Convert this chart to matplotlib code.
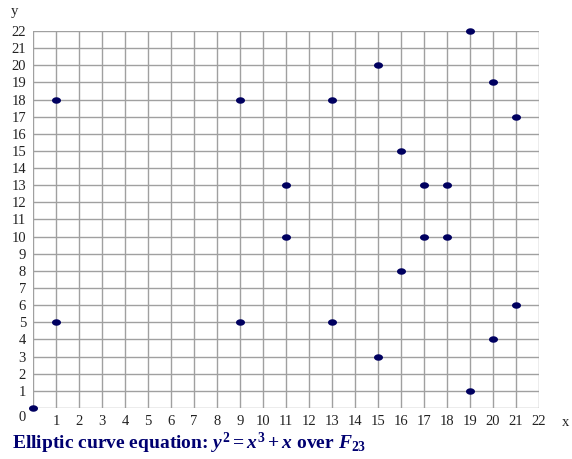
import matplotlib
matplotlib.use("Agg")
import matplotlib.pyplot as plt
import matplotlib.transforms as mtransforms
from matplotlib.path import Path
import numpy as np

plt.rcParams['mathtext.fontset'] = 'custom'
plt.rcParams['mathtext.rm'] = 'Liberation Serif:bold'
plt.rcParams['mathtext.it'] = 'Liberation Serif:bold:italic'
plt.rcParams['mathtext.bf'] = 'Liberation Serif:bold'

xs = [0, 1, 1, 9, 9, 11, 11, 13, 13, 15, 15, 16, 16, 17, 17, 18, 18, 19, 19, 20, 20, 21, 21]
ys = [0, 5, 18, 5, 18, 10, 13, 5, 18, 3, 20, 8, 15, 10, 13, 10, 13, 1, 22, 4, 19, 6, 17]
x_ticks = list(range(1, 23))
y_ticks = list(range(0, 23))
title = r"Elliptic curve equation: $y^2 = x^3 + x$ over $F_{23}$"

# elliptical marker (wider than tall)
t = np.linspace(0, 2 * np.pi, 40)
ell = Path(np.column_stack([np.cos(t), 0.72 * np.sin(t)]), closed=True)

fig = plt.figure(figsize=(5.72, 4.59), dpi=100)
ax = fig.add_axes([33/572, 1-408/459, (539-33)/572, (408-31)/459])
ax.set_xlim(0, 22)
ax.set_ylim(0, 22)
for s in ax.spines.values():
    s.set_visible(False)
ax.set_xticks(range(0, 23))
ax.set_yticks(range(0, 23))
ax.grid(True, color='#a0a0a0', linewidth=1.0)
ax.set_axisbelow(True)
ax.tick_params(length=0, labelsize=10.5, labelcolor='#222222', pad=5)
ax.set_xticklabels([''] + [str(v) for v in x_ticks], family='Liberation Serif')
ax.set_yticklabels([str(v) for v in y_ticks], family='Liberation Serif')
lbl0 = ax.get_yticklabels()[0]
lbl0.set_transform(lbl0.get_transform() + mtransforms.ScaledTranslation(0, -6/72, fig.dpi_scale_trans))

ax.scatter(xs, ys, s=42, marker=ell, color='#000060', zorder=3, clip_on=False, linewidths=0)

fig.text(14/572, 1-12/459, 'y', family='Liberation Serif', fontsize=10.5, color='#222222', ha='center', va='center')
fig.text(566/572, 1-423/459, 'x', family='Liberation Serif', fontsize=10.5, color='#222222', ha='center', va='center')
fig.text(12/572, 1-443/459, title, family='Liberation Serif', fontweight='bold', fontsize=14,
         color='#000070', ha='left', va='center')

fig.savefig('out.png', dpi=100)
